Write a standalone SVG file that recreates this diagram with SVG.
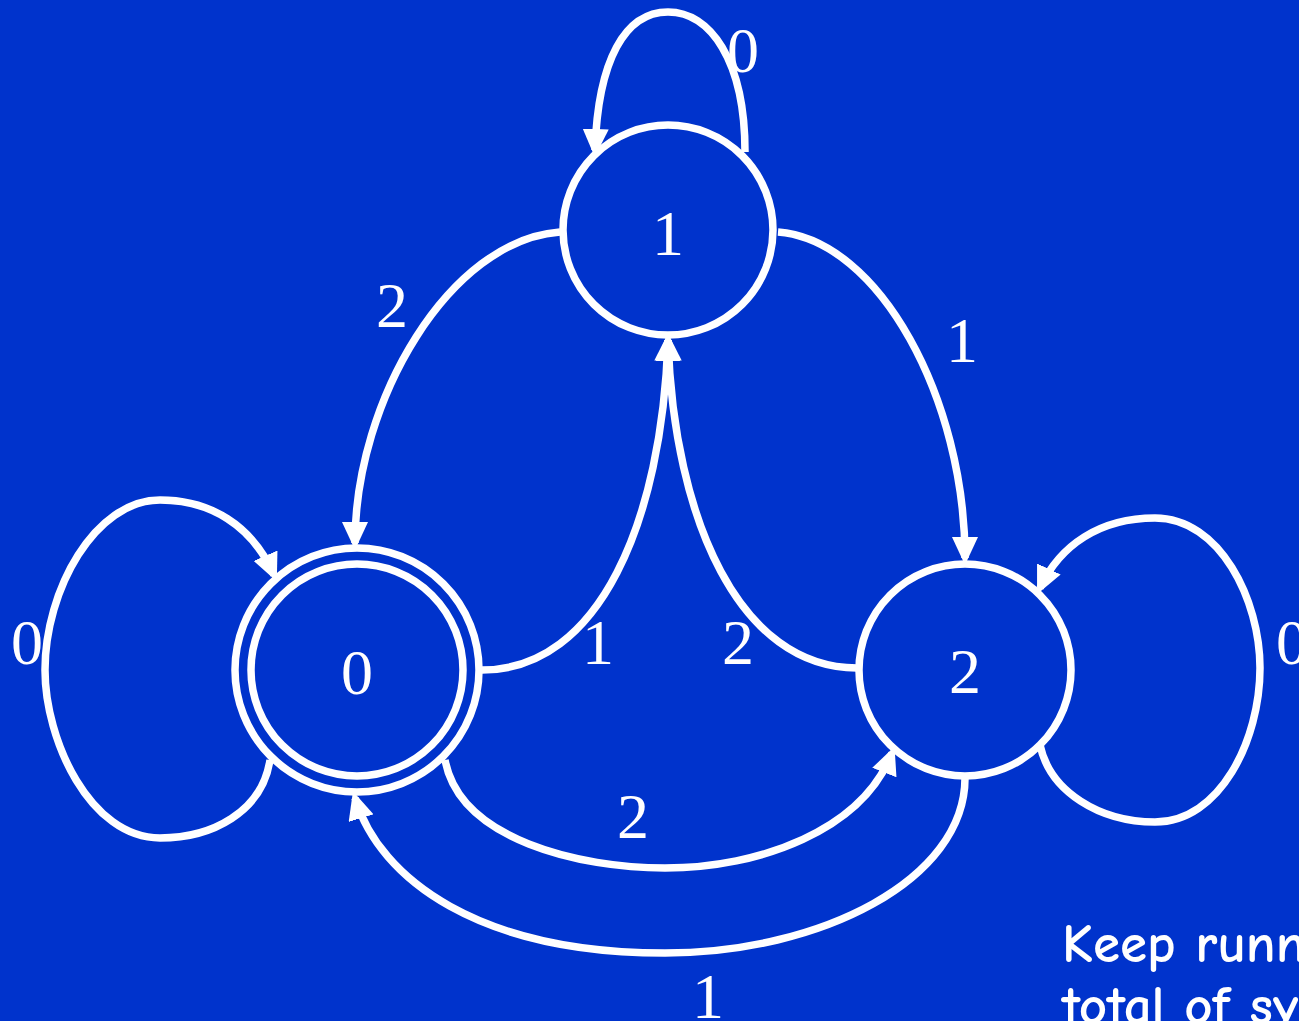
<svg xmlns="http://www.w3.org/2000/svg" width="1299" height="1021" viewBox="0 0 1299 1021">
<style>
.bg{fill:#0033CC}
.st{fill:none;stroke:#fff;stroke-width:7.5}
.ed{fill:none;stroke:#fff;stroke-width:7.5;marker-end:url(#ah)}
.lb{font-family:"Liberation Serif","Times New Roman",serif;font-size:64px;fill:#fff;text-anchor:middle}
.nt{font-family:"Comic Neue","Open Sans","Liberation Sans",sans-serif;font-size:55px;font-weight:bold;fill:#fff}
</style>
<defs>
<marker id="ah" markerUnits="userSpaceOnUse" markerWidth="28" markerHeight="26" refX="21" refY="13" orient="auto">
<path d="M0,0 L28,13 L0,26 z" fill="#fff"/>
</marker>
</defs>
<rect class="bg" x="0" y="0" width="1299" height="1021"/>
<g id="connectors">
<path class="ed" d="M745 152 C745 60 710 12 668 12 C625 12 598 60 595 150"/>
<path class="ed" d="M778 232 C880 240 965 400 965 558"/>
<path class="ed" d="M560 232 C450 240 355 400 355 543"/>
<path class="ed" d="M482 670 C600 670 662 520 668 340"/>
<path class="ed" d="M857 668 C740 668 674 520 668 340"/>
<path class="ed" d="M270 760 C262 812 212 838 160 838 C90 838 45 740 45 670 C45 590 95 500 160 500 C210 500 252 525 274 575"/>
<path class="ed" d="M1040 745 C1050 792 1100 822 1155 822 C1220 822 1260 740 1260 668 C1260 600 1220 518 1155 518 C1100 518 1060 545 1040 588"/>
<path class="ed" d="M445 760 C460 840 580 868 665 868 C760 868 862 830 892 753"/>
<path class="ed" d="M965 778 C965 880 820 953 665 953 C480 953 380 880 355 798"/>
</g>
<g id="node0">
<circle class="st" cx="357" cy="670" r="122"/>
<circle class="st" cx="357" cy="670" r="106"/>
<text class="lb" x="357" y="694">0</text>
</g>
<g id="node1">
<circle class="st" cx="668" cy="230" r="105"/>
<text class="lb" x="668" y="255">1</text>
</g>
<g id="node2">
<circle class="st" cx="965" cy="670" r="106"/>
<text class="lb" x="965" y="693">2</text>
</g>
<g id="labels">
<text class="lb" x="743" y="72">0</text>
<text class="lb" x="392" y="327">2</text>
<text class="lb" x="962" y="362">1</text>
<text class="lb" x="598" y="664">1</text>
<text class="lb" x="738" y="664">2</text>
<text class="lb" x="27" y="664">0</text>
<text class="lb" x="1292" y="664">0</text>
<text class="lb" x="633" y="838">2</text>
<text class="lb" x="708" y="1018">1</text>
</g>
<g id="note">
<text class="nt" x="1062" y="962">Keep runn</text>
<text class="nt" x="1062" y="1024">total of sy</text>
</g>
</svg>
